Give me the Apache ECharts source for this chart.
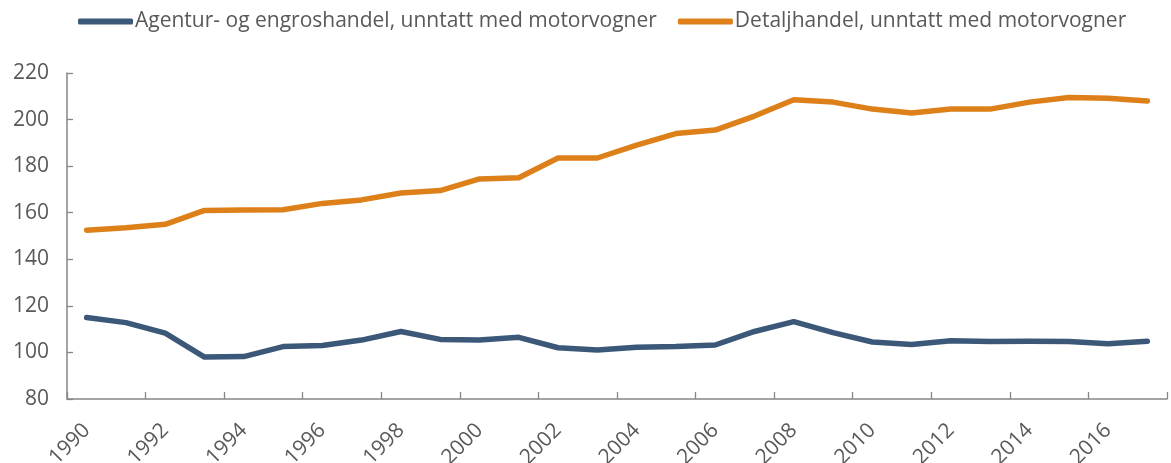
<!DOCTYPE html>
<html lang="no">
<head>
    <meta charset="UTF-8">
    <title>Varehandel</title>
    <script src="https://cdn.jsdelivr.net/npm/echarts@6/dist/echarts.min.js"></script>
    <style>
        html, body { margin: 0; padding: 0; background: #fff; }
        #chart { width: 1171px; height: 463px; }
    </style>
</head>
<body>
<div id="chart"></div>
<script>
    // år 1990-2017
    var years = ['1990','1991','1992','1993','1994','1995','1996','1997','1998','1999',
                 '2000','2001','2002','2003','2004','2005','2006','2007','2008','2009',
                 '2010','2011','2012','2013','2014','2015','2016','2017'];

    var engros = [115, 112.8, 108.3, 98, 98.2, 102.5, 103, 105.3, 109, 105.6,
                  105.3, 106.5, 102, 101, 102.2, 102.5, 103.2, 109, 113.2, 108.5,
                  104.5, 103.4, 105, 104.7, 104.8, 104.7, 103.7, 104.8];

    var detalj = [152.5, 153.5, 155, 161, 161.2, 161.3, 164, 165.5, 168.5, 169.5,
                  174.5, 175, 183.5, 183.5, 189, 194, 195.5, 201.5, 208.5, 207.5,
                  204.5, 202.8, 204.5, 204.5, 207.5, 209.5, 209.2, 208];

    var seriesNames = ['Agentur- og engroshandel, unntatt med motorvogner',
                       'Detaljhandel, unntatt med motorvogner'];

    var font = 'Open Sans';
    var chart = echarts.init(document.getElementById('chart'));

    chart.setOption({
        animation: false,
        color: ['#3B5878', '#DD8019'],
        legend: {
            top: 6,
            left: 73,
            itemWidth: 55,
            itemHeight: 6,
            itemGap: 21,
            icon: 'roundRect',
            textStyle: { fontFamily: font, fontSize: 21, color: '#595959', padding: [0, 0, 0, -3] },
            data: seriesNames
        },
        grid: { left: 67, right: 4, top: 73, bottom: 64, containLabel: false, outerBoundsMode: 'none' },
        xAxis: {
            type: 'category',
            data: years,
            boundaryGap: true,
            axisLine: { lineStyle: { color: '#868686', width: 1.5 } },
            axisTick: { show: true, length: 7, inside: true, lineStyle: { color: '#868686', width: 1.3 } },
            axisLabel: { interval: 1, rotate: 45, fontFamily: font, fontSize: 21, color: '#595959', margin: 28, padding: [0, 0, 0, 0] }
        },
        yAxis: {
            type: 'value',
            min: 80,
            max: 220,
            interval: 20,
            splitLine: { show: false },
            axisLine: { show: true, lineStyle: { color: '#868686', width: 1.5 } },
            axisTick: { show: true, length: 6, inside: true, lineStyle: { color: '#868686', width: 1.3 } },
            axisLabel: { fontFamily: font, fontSize: 21, color: '#595959', margin: 18 }
        },
        series: [
            {
                name: seriesNames[0],
                type: 'line',
                data: engros,
                symbol: 'none',
                lineStyle: { width: 5.5, cap: 'round', join: 'round' }
            },
            {
                name: seriesNames[1],
                type: 'line',
                data: detalj,
                symbol: 'none',
                lineStyle: { width: 5.5, cap: 'round', join: 'round' }
            }
        ]
    });
</script>
</body>
</html>
